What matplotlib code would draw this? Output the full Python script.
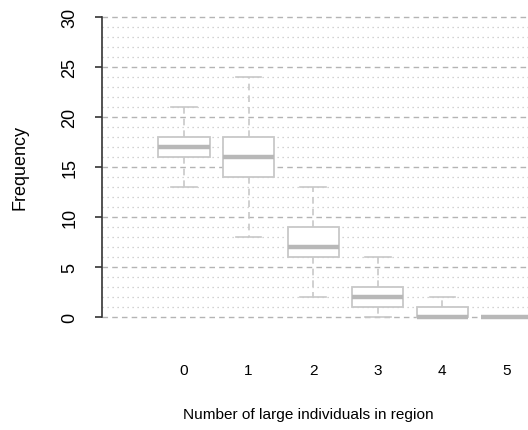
import matplotlib
matplotlib.use("Agg")
import matplotlib.pyplot as plt

plt.rcParams["font.family"] = ["Liberation Sans", "DejaVu Sans"]

# ---------- data ----------
groups = ["0", "1", "2", "3", "4", "5"]
whisker_low = [13, 8, 2, 0, 0, 0]
q1 = [16, 14, 6, 1, 0, 0]
median = [17, 16, 7, 2, 0, 0]
q3 = [18, 18, 9, 3, 1, 0]
whisker_high = [21, 24, 13, 6, 2, 0]
y_ticks = [0, 5, 10, 15, 20, 25, 30]

# ---------- style ----------
BOX = "#c8c8c8"
MED = "#b8b8b8"
GRID_MAJOR = "#b4b4b4"
GRID_MINOR = "#c4c4c4"
FS_V = 13    # rotated texts
FS_H = 11.1  # horizontal texts

fig = plt.figure(figsize=(5.28, 4.31), dpi=100)
W, H = 528, 431
# axes: x from px 102 to 528, y 0..30 -> px 318..18 (10 px per unit)
ax = fig.add_axes([102 / W, (431 - 324) / H, (528 - 102) / W, 312 / H])
ax.set_ylim(-0.6, 30.6)
x0_px, step_px = 184, 64.6
ax.set_xlim((102 - x0_px) / step_px, (528 - x0_px) / step_px)

# grid: dotted every unit, dashed every 5
for v in range(0, 31):
    if v % 5 == 0:
        ax.axhline(v, color=GRID_MAJOR, lw=1.0, ls=(0, (4, 3)), zorder=1)
    else:
        ax.axhline(v, color=GRID_MINOR, lw=0.9, ls=(0, (1, 3)), zorder=1)

stats = []
for i, g in enumerate(groups):
    stats.append(dict(label=g, whislo=whisker_low[i], q1=q1[i], med=median[i],
                      q3=q3[i], whishi=whisker_high[i], fliers=[]))

positions = list(range(len(groups)))
ax.bxp(stats, positions=positions, widths=0.79, showfliers=False,
       patch_artist=True,
       boxprops=dict(facecolor="white", edgecolor=BOX, lw=1.3),
       medianprops=dict(color=MED, lw=3.2, solid_capstyle="butt"),
       whiskerprops=dict(color=BOX, lw=1.2, ls=(0, (4, 3))),
       capprops=dict(color=BOX, lw=1.2),
       manage_ticks=False, zorder=3)

for s in ["top", "right", "bottom"]:
    ax.spines[s].set_visible(False)
ax.spines["left"].set_bounds(0, 30)
ax.spines["left"].set_color("#333333")
ax.spines["left"].set_linewidth(1.2)

ax.set_yticks(y_ticks)
ax.set_yticklabels([str(t) for t in y_ticks], rotation=90, va="center",
                   fontsize=FS_V)
ax.tick_params(axis="y", length=5, width=1.2, color="#333333", pad=12)

ax.set_xticks(positions)
ax.set_xticklabels(groups, fontsize=FS_H)
ax.tick_params(axis="x", length=0, pad=29)

ax.set_xlabel("Number of large individuals in region", fontsize=FS_H,
              labelpad=21)
ax.xaxis.set_label_coords((308 - 102) / 426, -0.27)
ax.set_ylabel("Frequency", fontsize=FS_V, labelpad=24)

fig.savefig("out.png", dpi=100, facecolor="white")
